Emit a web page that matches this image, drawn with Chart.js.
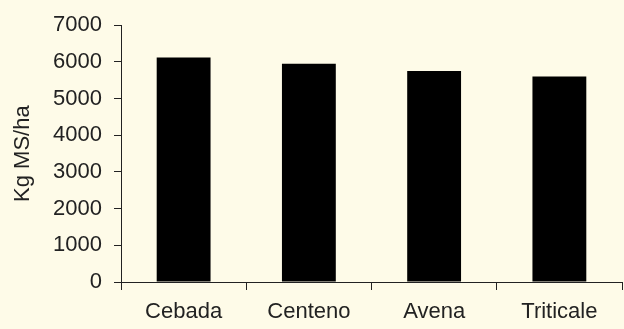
<!DOCTYPE html>
<html>
<head>
<meta charset="utf-8">
<script src="https://cdn.jsdelivr.net/npm/chart.js@4/dist/chart.umd.min.js"></script>
<style>
  html, body { margin: 0; padding: 0; background: #fefbe8; }
  #wrap { width: 624px; height: 329px; }
</style>
</head>
<body>
<div id="wrap"><canvas id="chart"></canvas></div>
<script>
// Producción de materia seca por cereal
const cereales = ["Cebada", "Centeno", "Avena", "Triticale"];
const kgMsHa = [6120, 5950, 5750, 5600];
const yTicks = [0, 1000, 2000, 3000, 4000, 5000, 6000, 7000];

const font = { family: "'Liberation Sans', Arial, sans-serif", size: 22 };
const ink = "#222";

new Chart(document.getElementById("chart"), {
  type: "bar",
  data: {
    labels: cereales,
    datasets: [{
      data: kgMsHa,
      backgroundColor: "#000",
      borderWidth: 0,
      categoryPercentage: 1,
      barPercentage: 0.43
    }]
  },
  options: {
    responsive: true,
    maintainAspectRatio: false,
    animation: false,
    layout: { padding: { top: 22, right: 2, left: 0, bottom: 0 } },
    plugins: {
      legend: { display: false },
      tooltip: { enabled: false }
    },
    scales: {
      x: {
        grid: { drawOnChartArea: false, tickLength: 8, color: "#222", offset: true },
        border: { color: "#222", width: 1 },
        ticks: { font, color: ink, padding: 9, maxRotation: 0 },
        afterFit: s => { s.height = 47; }
      },
      y: {
        min: 0,
        max: 7000,
        afterBuildTicks: s => { s.ticks = yTicks.map(v => ({ value: v })); },
        grid: { drawOnChartArea: false, tickLength: 7, color: "#222" },
        border: { color: "#222", width: 1 },
        ticks: { font, color: ink, padding: 12, callback: v => String(v) },
        title: {
          display: true,
          text: "Kg MS/ha",
          font,
          color: ink,
          padding: { top: 10, bottom: 0 }
        },
        afterFit: s => { s.width = 121; }
      }
    }
  }
});
</script>
</body>
</html>
